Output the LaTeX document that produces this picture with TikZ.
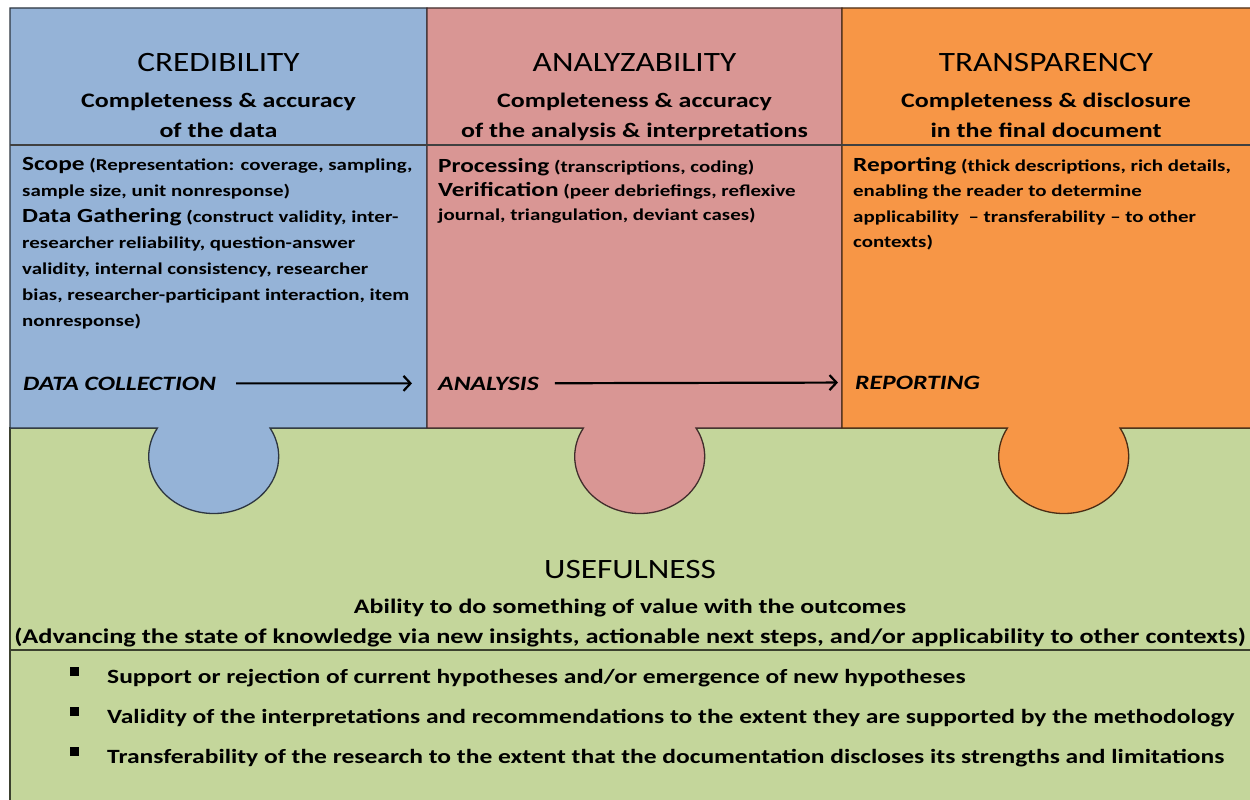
\documentclass[tikz,border=0pt]{standalone}
\usepackage{fontspec}
\setmainfont{Carlito}[FakeStretch=1.19,
  BoldFeatures={FakeStretch=1.26},
  BoldItalicFeatures={FakeStretch=1.26}]
\usetikzlibrary{arrows.meta}

\definecolor{credblue}{RGB}{149,179,215}
\definecolor{anapink}{RGB}{217,150,148}
\definecolor{transorange}{RGB}{247,150,70}
\definecolor{usegreen}{RGB}{196,214,155}

\newcommand{\lbl}[1]{{\fontsize{20.1}{25}\selectfont #1}}

\tikzset{
  panel/.style={line width=1.3pt},
  title/.style={font=\fontsize{28}{30}\selectfont, anchor=base, inner sep=0pt},
  subtitle/.style={font=\bfseries\fontsize{20.6}{30}\selectfont, align=center, inner sep=0pt},
  body/.style={font=\bfseries\fontsize{16.6}{26}\selectfont, align=left, anchor=north west,
    inner sep=0pt, execute at begin node=\strut},
  stage/.style={font=\bfseries\itshape\fontsize{20.4}{24}\selectfont, anchor=base west, inner sep=0pt},
  flow/.style={line width=2.2pt, -{Straight Barb[length=7pt,width=15pt]}},
  item/.style={font=\bfseries\fontsize{20.25}{24}\selectfont, anchor=base west, inner sep=0pt},
  bullet/.style={fill=black, minimum width=9pt, minimum height=9pt, inner sep=0pt},
}

\begin{document}
\begin{tikzpicture}[x=1pt,y=-1pt]
        \fill[white] (0,0) rectangle (1250,800);
        \useasboundingbox (0,0) rectangle (1250,800);
        \clip (0,0) rectangle (1250,800);

        % bottom piece
        \draw[panel, fill=usegreen, draw=usegreen!30!black] (10,428) rectangle (1262,812);
        \draw[panel, draw=usegreen!30!black] (10,650) -- (1262,650);

        % top pieces, each with a knob hanging into the bottom one
        \draw[panel, fill=credblue, draw=credblue!30!black] (10,8) -- (427,8) -- (427,428) -- (270,428)
            arc[start angle=-30, end angle=210, x radius=65, y radius=57] -- (10,428) -- cycle;
        \draw[panel, fill=anapink, draw=anapink!30!black] (427,8) -- (842,8) -- (842,428) -- (696,428)
            arc[start angle=-30, end angle=210, x radius=65, y radius=57] -- (427,428) -- cycle;
        \draw[panel, fill=transorange, draw=transorange!30!black] (842,8) -- (1262,8) -- (1262,428) -- (1120,428)
            arc[start angle=-30, end angle=210, x radius=65, y radius=57] -- (842,428) -- cycle;
        \draw[line width=1.8pt, black!75] (10,145) -- (1262,145);

        % headings
        \node[title] (cred) at (218.5,72) {CREDIBILITY};
        \node[title] (ana) at (634.5,72) {ANALYZABILITY};
        \node[title] (trans) at (1046,72) {TRANSPARENCY};
        \node[subtitle, anchor=north] (cred-sub) at (218.5,86) {\strut Completeness \& accuracy\\of the data};
        \node[subtitle, anchor=north] (ana-sub) at (634.5,86) {\strut Completeness \& accuracy\\of the analysis \& interpretations};
        \node[subtitle, anchor=north] (trans-sub) at (1046,86) {\strut Completeness \& disclosure\\in the final document};

        % criteria
        \node[body] (cred-body) at (22,157) {\lbl{Scope} (Representation: coverage, sampling,\\
            sample size, unit nonresponse)\\
            \lbl{Data Gathering} (construct validity, inter-\\
            researcher reliability, question-answer\\
            validity, internal consistency, researcher\\
            bias, researcher-participant interaction, item\\
            nonresponse)};
        \node[body, font=\bfseries\fontsize{16.6}{24}\selectfont] (ana-body) at (438,158) {\lbl{Processing} (transcriptions, coding)\\
            \lbl{Verification} (peer debriefings, reflexive\\
            journal, triangulation, deviant cases)};
        \node[body, font=\bfseries\fontsize{16.6}{25.5}\selectfont] (trans-body) at (853,157) {\lbl{Reporting} (thick descriptions, rich details,\\
            enabling the reader to determine\\
            applicability\ \ -- transferability -- to other\\
            contexts)};

        % process
        \node[stage] (collect) at (23,390) {DATA COLLECTION};
        \node[stage] (analysis) at (438,390) {ANALYSIS};
        \node[stage] (report) at (855,389) {REPORTING};
        \draw[flow, shorten <=20pt, shorten >=26pt] (collect) -- (analysis);
        \draw[flow, shorten <=16pt, shorten >=17pt] (analysis) -- (report);

        % usefulness
        \node[title] (use) at (630,578) {USEFULNESS};
        \node[subtitle, anchor=base] (use-sub) at (630,613) {Ability to do something of value with the outcomes};
        \node[subtitle, anchor=base, font=\bfseries\fontsize{20.9}{24}\selectfont] (use-note) at (630,643) {(Advancing the state of knowledge via new insights, actionable next steps, and/or applicability to other contexts)};
        \foreach \txt [count=\i] in {{Support or rejection of current hypotheses and/or emergence of new hypotheses},
            {Validity of the interpretations and recommendations to the extent they are supported by the methodology},
            {Transferability of the research to the extent that the documentation discloses its strengths and limitations}} {
            \node[bullet] (dot-\i) at (74,631+40*\i) {};
            \node[item] (item-\i) at (107,643+40*\i) {\txt};
        }
    \end{tikzpicture}
\end{document}
